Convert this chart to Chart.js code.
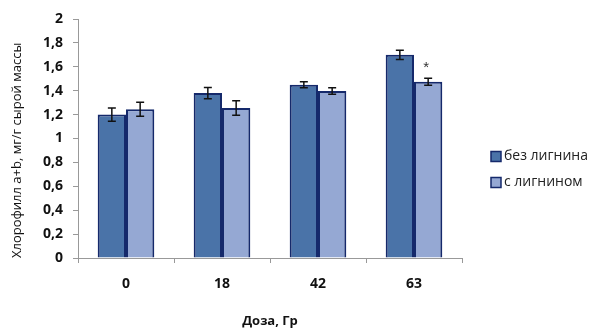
<!DOCTYPE html>
<html>
<head>
<meta charset="utf-8">
<script src="https://cdn.jsdelivr.net/npm/chart.js@4"></script>
<style>
  html, body { margin: 0; padding: 0; background: #fff; }
  #wrap { width: 591px; height: 333px; }
</style>
</head>
<body>
<div id="wrap"><canvas id="chlChart" width="591" height="333"></canvas></div>
<script>
const doses = ['0', '18', '42', '63'];
const noLignin = [1.20, 1.38, 1.45, 1.70];
const noLigninErr = [0.055, 0.047, 0.025, 0.039];
const withLignin = [1.245, 1.255, 1.397, 1.475];
const withLigninErr = [0.058, 0.06, 0.027, 0.03];
const marks = ['', '', '', '*'];   // significance marks above "с лигнином"
const yTicks = [0, 0.2, 0.4, 0.6, 0.8, 1, 1.2, 1.4, 1.6, 1.8, 2];

const borderNavy = '#15296b';
const fontFam = '"Open Sans", sans-serif';

// error bars + asterisk
const errorBars = {
    id: 'errorBars',
    afterDatasetsDraw(chart) {
        const ctx = chart.ctx;
        const y = chart.scales.y;
        const errs = [noLigninErr, withLigninErr];
        ctx.save();
        ctx.strokeStyle = '#111';
        ctx.lineWidth = 1.5;
        chart.data.datasets.forEach((ds, di) => {
            const meta = chart.getDatasetMeta(di);
            meta.data.forEach((bar, i) => {
                const v = ds.data[i];
                const e = errs[di][i];
                const x = bar.x;
                const top = y.getPixelForValue(v + e);
                const bot = y.getPixelForValue(v - e);
                ctx.beginPath();
                ctx.moveTo(x, top); ctx.lineTo(x, bot);
                ctx.moveTo(x - 4, top); ctx.lineTo(x + 4, top);
                ctx.moveTo(x - 4, bot); ctx.lineTo(x + 4, bot);
                ctx.stroke();
                if (di === 1 && marks[i]) {
                    ctx.fillStyle = '#333';
                    ctx.font = '15px "Liberation Sans", sans-serif';
                    ctx.textAlign = 'center';
                    ctx.fillText(marks[i], x - 2, top - 6);
                }
            });
        });
        ctx.restore();
    }
};

// legend on the right, placed relative to the plot area
const sideLegend = {
    id: 'sideLegend',
    afterDraw(chart) {
        const ctx = chart.ctx;
        const area = chart.chartArea;
        const x0 = area.right + 29;
        const midY = (area.top + area.bottom) / 2;
        ctx.save();
        ctx.font = '14px ' + fontFam;
        ctx.textBaseline = 'middle';
        chart.data.datasets.forEach((ds, i) => {
            const cy = midY + 18 + i * 26;
            ctx.fillStyle = ds.backgroundColor;
            ctx.fillRect(x0, cy - 5, 10, 10);
            ctx.strokeStyle = borderNavy;
            ctx.lineWidth = 1.5;
            ctx.strokeRect(x0, cy - 5, 10, 10);
            ctx.fillStyle = '#222';
            ctx.fillText(ds.label, x0 + 13, cy);
        });
        ctx.restore();
    }
};

new Chart(document.getElementById('chlChart').getContext('2d'), {
    type: 'bar',
    data: {
        labels: doses,
        datasets: [
            {
                label: 'без лигнина',
                data: noLignin,
                backgroundColor: '#4a73a8',
                borderColor: borderNavy,
                borderWidth: 2
            },
            {
                label: 'с лигнином',
                data: withLignin,
                backgroundColor: '#95a8d3',
                borderColor: borderNavy,
                borderWidth: 2
            }
        ]
    },
    options: {
        responsive: false,
        animation: false,
        layout: { padding: { top: 19, right: 129, left: 0, bottom: 0 } },
        datasets: { bar: { categoryPercentage: 0.59, barPercentage: 1 } },
        plugins: {
            legend: { display: false },
            tooltip: { enabled: false }
        },
        scales: {
            x: {
                afterFit: axis => { axis.height = 75; },
                grid: { display: true, drawOnChartArea: false, tickLength: 5, color: '#999' },
                border: { color: '#999' },
                ticks: { color: '#111', padding: 13, font: { family: fontFam, size: 14, weight: 'bold' } },
                title: { display: true, text: 'Доза, Гр', color: '#111', padding: { top: 4, bottom: 4 },
                         font: { family: fontFam, size: 13, weight: 'bold' } }
            },
            y: {
                min: 0,
                max: 2,
                afterFit: axis => { axis.width = 78; },
                afterBuildTicks: axis => { axis.ticks = yTicks.map(v => ({ value: v })); },
                grid: { display: true, drawOnChartArea: false, tickLength: 5, color: '#999' },
                border: { color: '#999' },
                ticks: {
                    color: '#111',
                    padding: 10,
                    font: { family: fontFam, size: 14, weight: 'bold' },
                    callback: v => String(Math.round(v * 10) / 10).replace('.', ',')
                },
                title: { display: true, text: 'Хлорофилл a+b, мг/г сырой массы', color: '#111',
                         align: 'start', padding: { top: 9, bottom: 0 },
                         font: { family: fontFam, size: 13 } }
            }
        }
    },
    plugins: [errorBars, sideLegend]
});
</script>
</body>
</html>
